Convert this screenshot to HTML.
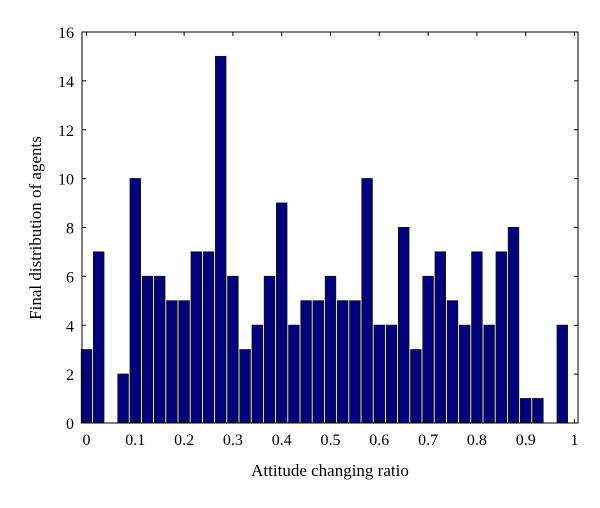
<!DOCTYPE html>
<html><head><meta charset="utf-8"><style>
html,body{margin:0;padding:0;background:#fff;}
svg text{font-family:"Liberation Serif",serif;fill:#000;}
</style></head><body>
<svg id="chart" width="600" height="503" xmlns="http://www.w3.org/2000/svg">
<rect width="600" height="503" fill="#fff"/>
<g id="bars"></g>
<g id="axes"></g>
<text x="330" y="476" font-size="17" text-anchor="middle">Attitude changing ratio</text>
<text transform="translate(41,228) rotate(-90)" font-size="17" text-anchor="middle">Final distribution of agents</text>
</svg>
<script>
const categories = [0,0.025,0.05,0.075,0.1,0.125,0.15,0.175,0.2,0.225,0.25,0.275,0.3,0.325,0.35,0.375,0.4,0.425,0.45,0.475,0.5,0.525,0.55,0.575,0.6,0.625,0.65,0.675,0.7,0.725,0.75,0.775,0.8,0.825,0.85,0.875,0.9,0.925,0.95,0.975];
const counts = [3,7,0,2,10,6,6,5,5,7,7,15,6,3,4,6,9,4,5,5,6,5,5,10,4,4,8,3,6,7,5,4,7,4,7,8,1,1,0,4];
const xTicks = [0,0.1,0.2,0.3,0.4,0.5,0.6,0.7,0.8,0.9,1];
const xTickLabels = ["0","0.1","0.2","0.3","0.4","0.5","0.6","0.7","0.8","0.9","1"];
const yTicks = [0,2,4,6,8,10,12,14,16];

const NS="http://www.w3.org/2000/svg";
const L=82,R=578,T=32,B=423;
const x0=86.5,x1=574.5;
const xs=v=>x0+(x1-x0)*v;
const ys=v=>B-(B-T)*v/16;
const barW=(xs(0.025)-xs(0))*0.85;
const bars=document.getElementById('bars');
categories.forEach((c,i)=>{
  const r=document.createElementNS(NS,'rect');
  
  
  r.setAttribute('x',xs(c)-barW/2);
  r.setAttribute('width',barW);
  r.setAttribute('y',ys(counts[i]));
  r.setAttribute('height',ys(0)-ys(counts[i]));
  r.setAttribute('fill','#000080');
  r.setAttribute('stroke','#111');
  r.setAttribute('stroke-width','1');
  bars.appendChild(r);
});
const ax=document.getElementById('axes');
function el(tag,attrs,txt){const e=document.createElementNS(NS,tag);for(const k in attrs)e.setAttribute(k,attrs[k]);if(txt!==undefined)e.textContent=txt;ax.appendChild(e);return e;}
const frame=el('rect',{x:L,y:T,width:R-L,height:B-T,fill:'none',stroke:'#000','stroke-width':1});


xTicks.forEach((v,i)=>{
  const x=xs(v);
  el('line',{x1:x,x2:x,y1:B,y2:B-4,stroke:'#000'});
  el('line',{x1:x,x2:x,y1:T,y2:T+4,stroke:'#000'});
  const t=el('text',{x:x,y:B+22,'font-size':16,'text-anchor':'middle'},xTickLabels[i]);
  
  
});
yTicks.forEach(v=>{
  const y=ys(v);
  el('line',{x1:L,x2:L+4,y1:y,y2:y,stroke:'#000'});
  el('line',{x1:R,x2:R-4,y1:y,y2:y,stroke:'#000'});
  const t=el('text',{x:L-8,y:y+6,'font-size':16,'text-anchor':'end'},String(v));
  
  
});
</script>
</body></html>
